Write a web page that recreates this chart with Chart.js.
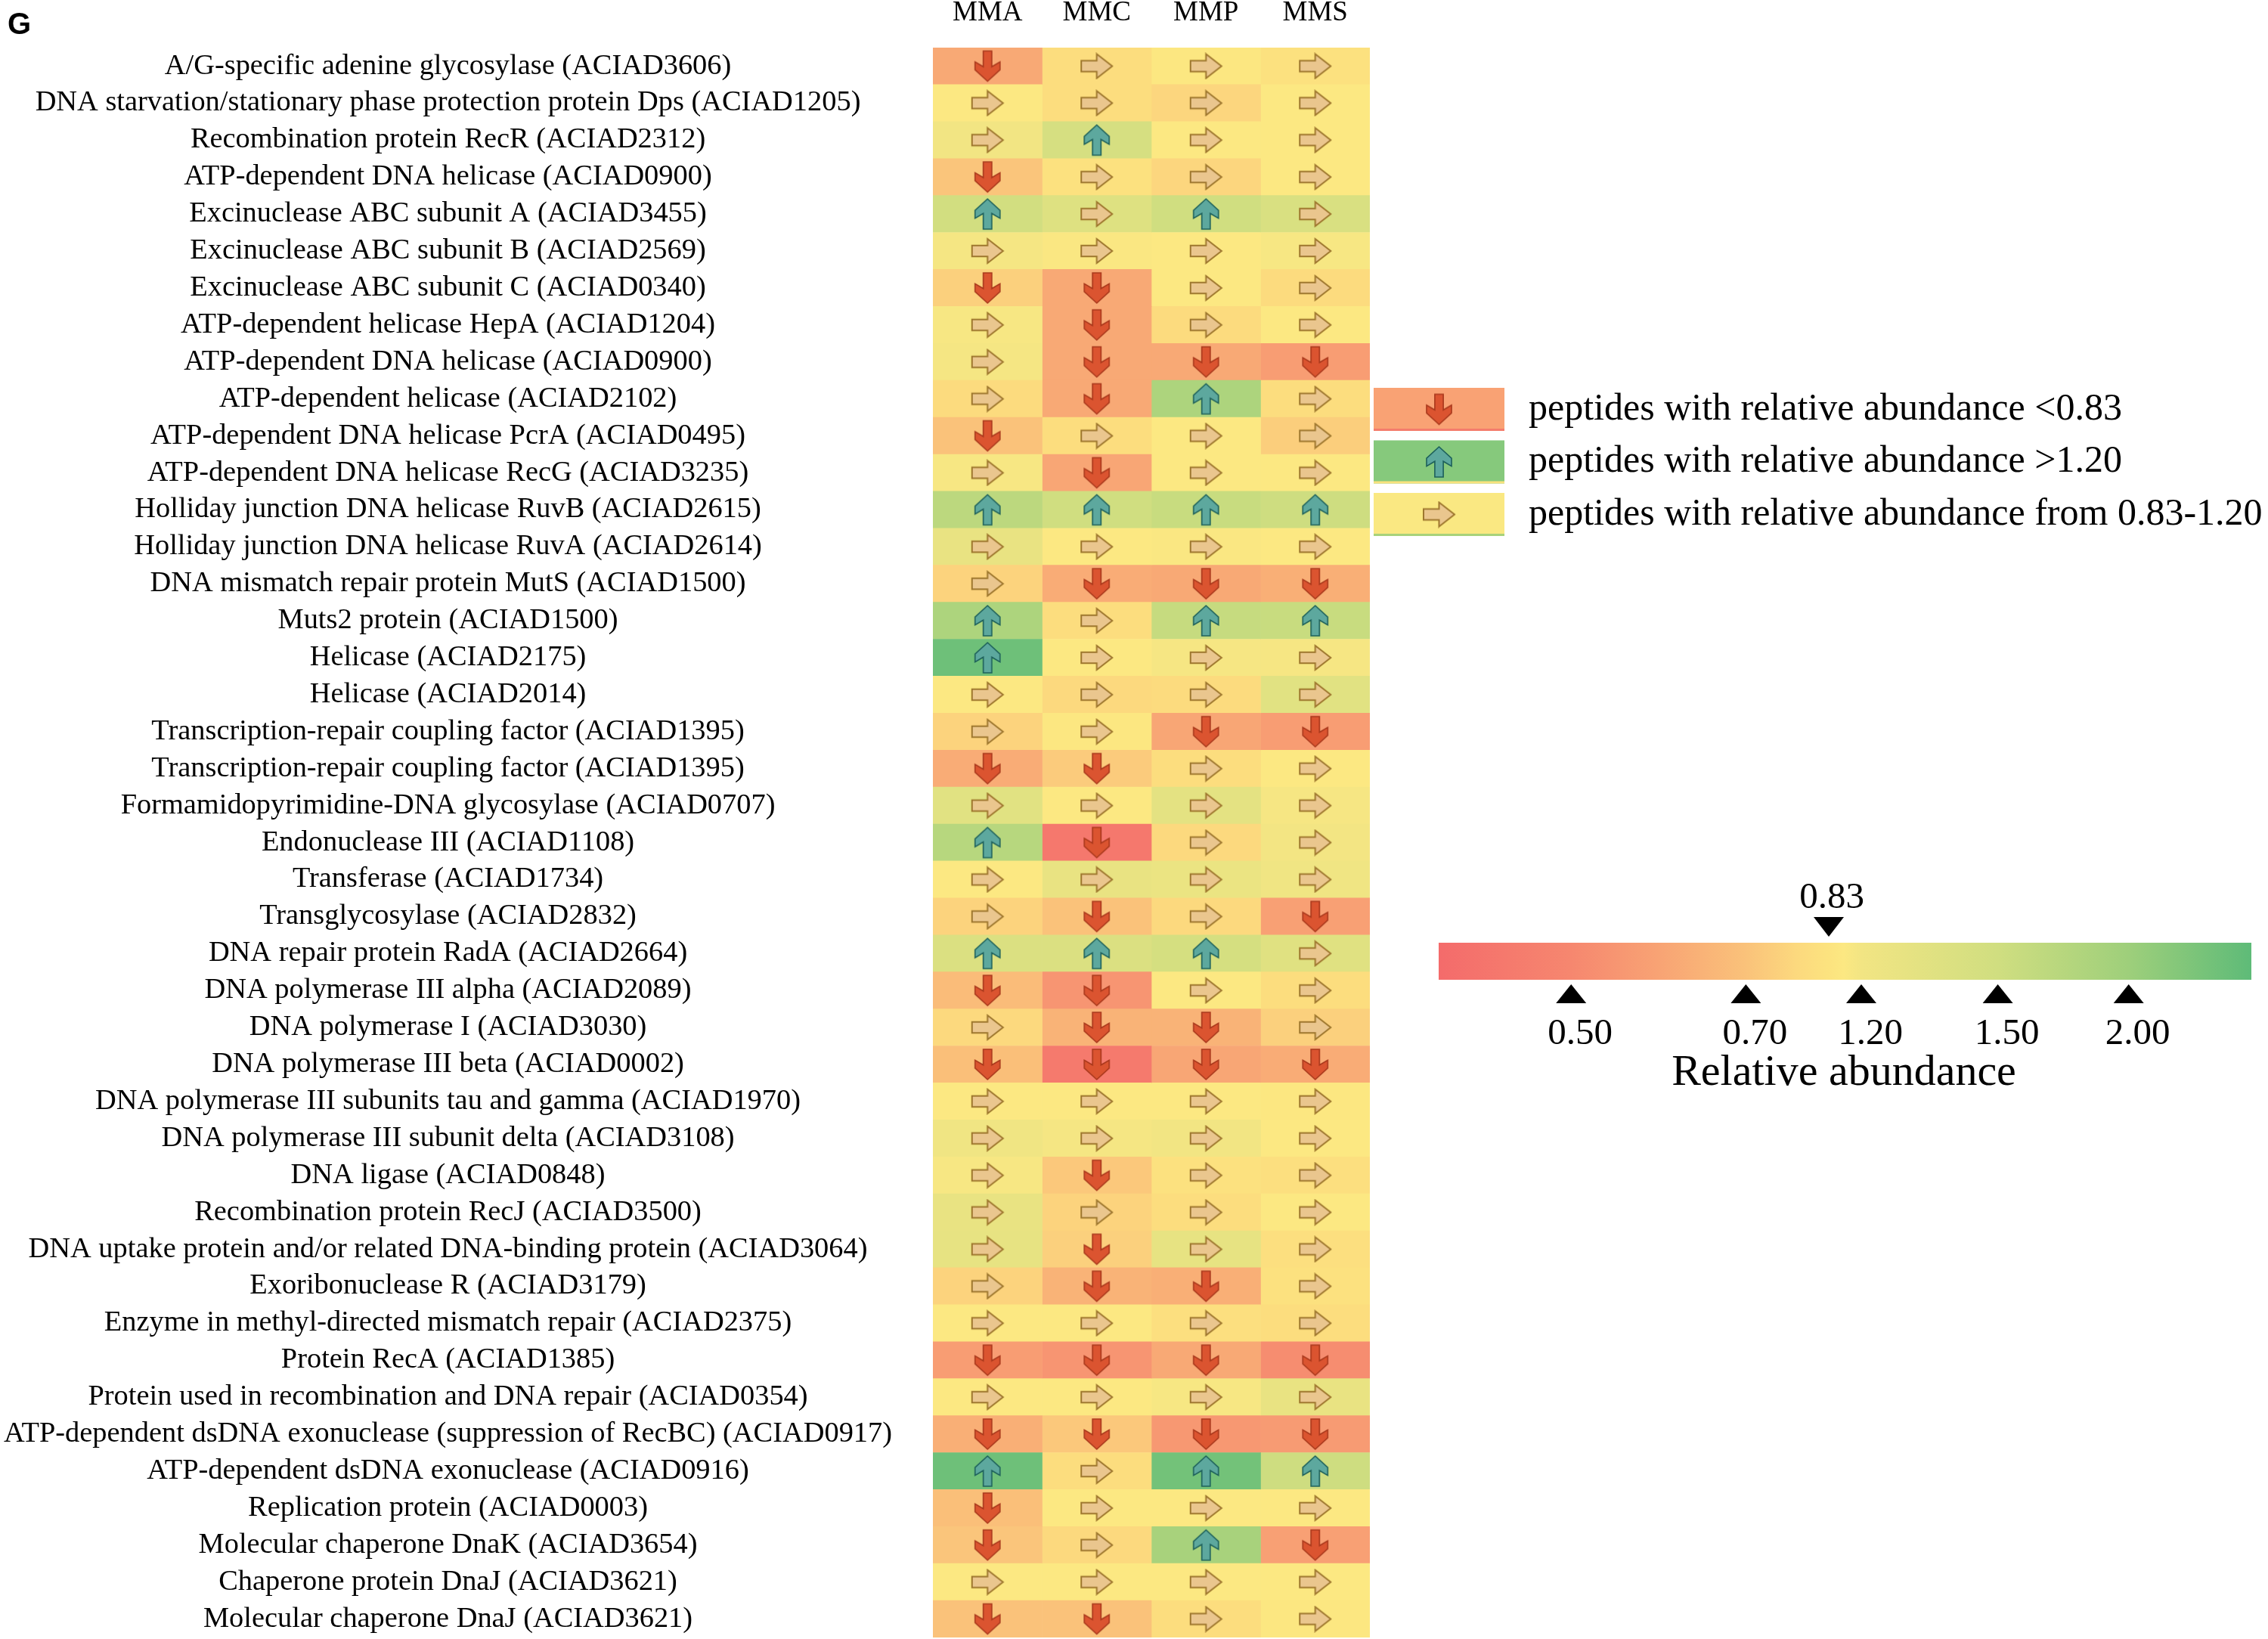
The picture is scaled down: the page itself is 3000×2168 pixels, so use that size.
<!DOCTYPE html>
<html lang="en">
<head>
    <meta charset="UTF-8">
    <title>Relative abundance of DNA repair proteins</title>
    <script src="https://cdn.jsdelivr.net/npm/chart.js"></script>
    <style>
        html, body { margin: 0; padding: 0; background: #fff; }
        #wrap { width: 3000px; height: 2168px; position: relative; }
    </style>
</head>
<body>
    <div id="wrap"><canvas id="heatChart"></canvas></div>

    <script>
        // ---- data ----
        const proteins = [
            'A/G-specific adenine glycosylase (ACIAD3606)',
            'DNA starvation/stationary phase protection protein Dps (ACIAD1205)',
            'Recombination protein RecR (ACIAD2312)',
            'ATP-dependent DNA helicase (ACIAD0900)',
            'Excinuclease ABC subunit A (ACIAD3455)',
            'Excinuclease ABC subunit B (ACIAD2569)',
            'Excinuclease ABC subunit C (ACIAD0340)',
            'ATP-dependent helicase HepA (ACIAD1204)',
            'ATP-dependent DNA helicase (ACIAD0900)',
            'ATP-dependent helicase (ACIAD2102)',
            'ATP-dependent DNA helicase PcrA (ACIAD0495)',
            'ATP-dependent DNA helicase RecG (ACIAD3235)',
            'Holliday junction DNA helicase RuvB (ACIAD2615)',
            'Holliday junction DNA helicase RuvA (ACIAD2614)',
            'DNA mismatch repair protein MutS (ACIAD1500)',
            'Muts2 protein (ACIAD1500)',
            'Helicase (ACIAD2175)',
            'Helicase (ACIAD2014)',
            'Transcription-repair coupling factor (ACIAD1395)',
            'Transcription-repair coupling factor (ACIAD1395)',
            'Formamidopyrimidine-DNA glycosylase (ACIAD0707)',
            'Endonuclease III (ACIAD1108)',
            'Transferase (ACIAD1734)',
            'Transglycosylase (ACIAD2832)',
            'DNA repair protein RadA (ACIAD2664)',
            'DNA polymerase III alpha (ACIAD2089)',
            'DNA polymerase I (ACIAD3030)',
            'DNA polymerase III beta (ACIAD0002)',
            'DNA polymerase III subunits tau and gamma (ACIAD1970)',
            'DNA polymerase III subunit delta (ACIAD3108)',
            'DNA ligase (ACIAD0848)',
            'Recombination protein RecJ (ACIAD3500)',
            'DNA uptake protein and/or related DNA-binding protein (ACIAD3064)',
            'Exoribonuclease R (ACIAD3179)',
            'Enzyme in methyl-directed mismatch repair (ACIAD2375)',
            'Protein RecA (ACIAD1385)',
            'Protein used in recombination and DNA repair (ACIAD0354)',
            'ATP-dependent dsDNA exonuclease (suppression of RecBC) (ACIAD0917)',
            'ATP-dependent dsDNA exonuclease (ACIAD0916)',
            'Replication protein (ACIAD0003)',
            'Molecular chaperone DnaK (ACIAD3654)',
            'Chaperone protein DnaJ (ACIAD3621)',
            'Molecular chaperone DnaJ (ACIAD3621)'
        ];

        const columns = ['MMA', 'MMC', 'MMP', 'MMS'];

        // relative abundance (cell colour), estimated from the colours
        const mmaValue = [0.62, 1.00, 1.20, 0.71, 1.48, 1.15, 0.75, 1.10, 1.15, 0.79, 0.70, 1.10, 1.70, 1.28, 0.76, 1.85, 2.45, 1.00, 0.76, 0.63, 1.35, 1.75, 1.00, 0.76, 1.40, 0.68, 0.78, 0.69, 1.00, 1.22, 1.10, 1.28, 1.30, 0.76, 1.00, 0.58, 1.00, 0.64, 2.45, 0.69, 0.71, 1.00, 0.70];
        const mmcValue = [0.80, 0.80, 1.45, 0.82, 1.38, 1.05, 0.62, 0.62, 0.62, 0.62, 0.80, 0.61, 1.50, 1.00, 0.63, 0.80, 1.00, 0.78, 0.95, 0.73, 1.00, 0.42, 1.28, 0.70, 1.40, 0.55, 0.65, 0.43, 1.00, 1.15, 0.72, 0.76, 0.75, 0.65, 1.00, 0.55, 1.00, 0.72, 0.80, 1.00, 0.78, 1.00, 0.70];
        const mmpValue = [0.95, 0.77, 1.00, 0.77, 1.50, 1.00, 1.00, 0.79, 0.62, 1.85, 1.00, 1.00, 1.58, 1.05, 0.62, 1.60, 1.12, 0.79, 0.61, 0.80, 1.32, 0.78, 1.26, 0.78, 1.46, 1.00, 0.65, 0.61, 1.00, 1.20, 0.82, 0.80, 1.30, 0.64, 0.81, 0.62, 1.10, 0.56, 2.40, 1.00, 1.90, 1.00, 0.80];
        const mmsValue = [0.82, 1.00, 1.00, 1.00, 1.42, 1.10, 0.79, 1.00, 0.58, 0.80, 0.74, 1.00, 1.52, 1.00, 0.64, 1.58, 1.12, 1.35, 0.58, 1.00, 1.12, 1.18, 1.22, 0.59, 1.36, 0.80, 0.75, 0.63, 0.95, 1.00, 0.81, 1.00, 0.81, 0.82, 0.80, 0.52, 1.28, 0.57, 1.52, 1.00, 0.59, 1.00, 0.95];

        // arrow shown in each cell: -1 down, 0 right, 1 up
        const mmaTrend = [-1, 0, 0, -1, 1, 0, -1, 0, 0, 0, -1, 0, 1, 0, 0, 1, 1, 0, 0, -1, 0, 1, 0, 0, 1, -1, 0, -1, 0, 0, 0, 0, 0, 0, 0, -1, 0, -1, 1, -1, -1, 0, -1];
        const mmcTrend = [0, 0, 1, 0, 0, 0, -1, -1, -1, -1, 0, -1, 1, 0, -1, 0, 0, 0, 0, -1, 0, -1, 0, -1, 1, -1, -1, -1, 0, 0, -1, 0, -1, -1, 0, -1, 0, -1, 0, 0, 0, 0, -1];
        const mmpTrend = [0, 0, 0, 0, 1, 0, 0, 0, -1, 1, 0, 0, 1, 0, -1, 1, 0, 0, -1, 0, 0, 0, 0, 0, 1, 0, -1, -1, 0, 0, 0, 0, 0, -1, 0, -1, 0, -1, 1, 0, 1, 0, 0];
        const mmsTrend = [0, 0, 0, 0, 0, 0, 0, 0, -1, 0, 0, 0, 1, 0, -1, 1, 0, 0, -1, 0, 0, 0, 0, -1, 0, 0, 0, -1, 0, 0, 0, 0, 0, 0, 0, -1, 0, -1, 1, 0, -1, 0, 0];

        // colour scale
        const scaleTicks = [0.50, 0.70, 1.20, 1.50, 2.00];
        const thresholdTick = 0.83;
        const colorValues = [0.35, 0.50, 0.60, 0.70, 0.78, 0.83, 1.00, 1.20, 1.50, 2.00, 2.60];
        const colorHex = ['#f46b6b', '#f6876f', '#f8a374', '#fac27a', '#fcd97e', '#fce37f', '#fce882', '#f2e583', '#d0de80', '#9ecf7b', '#5ebb78'];

        const legendTexts = [
            'peptides with relative abundance <0.83',
            'peptides with relative abundance >1.20',
            'peptides with relative abundance from 0.83-1.20'
        ];
        const legendTrends = [-1, 1, 0];

        // ---- layout / style ----
        const SERIF = '"Liberation Serif", "Times New Roman", serif';
        const AREA = { left: 1234, right: 1812, top: 63, bottom: 2166 };
        // where the labelled values sit along the colour bar (0..1)
        const barAnchorValue = [0.35, 0.50, 0.70, 0.83, 1.20, 1.50, 2.00, 2.60];
        const barAnchorPos = [0, 0.163, 0.378, 0.48, 0.52, 0.688, 0.849, 1];
        const BAR = { x: 1903, y: 1247, w: 1075, h: 49 };
        const LEGEND = { x: 1817, top: 513, step: 69.5, w: 173, h: 57, textX: 2022 };
        const legendFills = ['#f9a274', '#86c97c', '#fae882'];
        const legendEdges = ['#f47c6c', '#f8e27e', '#a8d27a'];

        function hexToRgb(h) {
            return [parseInt(h.slice(1, 3), 16), parseInt(h.slice(3, 5), 16), parseInt(h.slice(5, 7), 16)];
        }

        function colorFor(v) {
            if (v <= colorValues[0]) return colorHex[0];
            for (let i = 1; i < colorValues.length; i++) {
                if (v <= colorValues[i]) {
                    const t = (v - colorValues[i - 1]) / (colorValues[i] - colorValues[i - 1]);
                    const a = hexToRgb(colorHex[i - 1]);
                    const b = hexToRgb(colorHex[i]);
                    const c = a.map((x, k) => Math.round(x + (b[k] - x) * t));
                    return 'rgb(' + c.join(',') + ')';
                }
            }
            return colorHex[colorHex.length - 1];
        }

        function barFraction(v) {
            for (let i = 1; i < barAnchorValue.length; i++) {
                if (v <= barAnchorValue[i]) {
                    const t = (v - barAnchorValue[i - 1]) / (barAnchorValue[i] - barAnchorValue[i - 1]);
                    return barAnchorPos[i - 1] + t * (barAnchorPos[i] - barAnchorPos[i - 1]);
                }
            }
            return 1;
        }

        // arrow glyphs, drawn once and used as point styles
        function makeArrow(trend) {
            const pad = 2;
            const w = trend === 0 ? 41 : 33;
            const h = trend === 0 ? 32 : 40;
            const c = document.createElement('canvas');
            c.width = w + pad * 2;
            c.height = h + pad * 2;
            const g = c.getContext('2d');
            g.translate(pad, pad);
            let pts;
            if (trend === 0) {
                pts = [[0, 0.27], [0.5, 0.27], [0.5, 0], [1, 0.5], [0.5, 1], [0.5, 0.73], [0, 0.73]];
            } else {
                pts = [[0.33, 0], [0.67, 0], [0.67, 0.52], [1, 0.36], [1, 0.62], [0.5, 1], [0, 0.62], [0, 0.36], [0.33, 0.52]];
                if (trend === 1) pts = pts.map(p => [p[0], 1 - p[1]]);
            }
            g.beginPath();
            pts.forEach((p, i) => {
                const x = p[0] * w, y = p[1] * h;
                if (i === 0) g.moveTo(x, y); else g.lineTo(x, y);
            });
            g.closePath();
            g.fillStyle = trend === 0 ? '#eac68e' : (trend === 1 ? '#5da89e' : '#db5430');
            g.strokeStyle = trend === 0 ? '#9e772e' : (trend === 1 ? '#1d605b' : '#a8381c');
            g.lineWidth = trend === 0 ? 2 : 1.6;
            g.lineJoin = 'miter';
            g.fill();
            g.stroke();
            return c;
        }

        const arrowImages = { '-1': makeArrow(-1), '0': makeArrow(0), '1': makeArrow(1) };

        const valueColumns = [mmaValue, mmcValue, mmpValue, mmsValue];
        const trendColumns = [mmaTrend, mmcTrend, mmpTrend, mmsTrend];

        const datasets = [];
        columns.forEach((name, c) => {
            datasets.push({
                type: 'bar',
                label: name,
                indexAxis: 'y',
                data: valueColumns[c].map(() => [c, c + 1]),
                backgroundColor: valueColumns[c].map(colorFor),
                borderWidth: 0,
                barPercentage: 1,
                categoryPercentage: 1,
                grouped: false,
                order: 2
            });
        });
        columns.forEach((name, c) => {
            datasets.push({
                type: 'scatter',
                label: name + ' arrows',
                data: trendColumns[c].map((t, r) => ({ x: c + 0.5, y: r })),
                pointStyle: ctx => arrowImages[String(trendColumns[c][ctx.dataIndex])],
                pointRadius: 16,
                order: 1
            });
        });

        // the axes keep their own label overhang otherwise, which shrinks the grid
        function noPadding(scale) {
            scale.paddingLeft = 0;
            scale.paddingRight = 0;
            scale.paddingTop = 0;
            scale.paddingBottom = 0;
        }

        const extrasPlugin = {
            id: 'extras',
            afterDraw(chart) {
                const ctx = chart.ctx;
                ctx.save();

                // panel letter
                ctx.fillStyle = '#000';
                ctx.font = 'bold 40px "Liberation Sans", Arial, sans-serif';
                ctx.textAlign = 'left';
                ctx.textBaseline = 'middle';
                ctx.fillText('G', 10, 34);

                // legend
                legendTexts.forEach((text, i) => {
                    const top = LEGEND.top + i * LEGEND.step;
                    ctx.fillStyle = legendFills[i];
                    ctx.fillRect(LEGEND.x, top, LEGEND.w, LEGEND.h);
                    ctx.fillStyle = legendEdges[i];
                    ctx.fillRect(LEGEND.x, top + LEGEND.h - 3, LEGEND.w, 3);
                    const img = arrowImages[String(legendTrends[i])];
                    ctx.drawImage(img, LEGEND.x + LEGEND.w / 2 - img.width / 2, top + LEGEND.h / 2 - img.height / 2);
                    ctx.fillStyle = '#000';
                    ctx.font = '50px ' + SERIF;
                    ctx.textAlign = 'left';
                    ctx.fillText(text, LEGEND.textX, top + LEGEND.h / 2);
                });

                // colour bar
                const grad = ctx.createLinearGradient(BAR.x, 0, BAR.x + BAR.w, 0);
                colorValues.forEach((v, i) => grad.addColorStop(barFraction(v), colorHex[i]));
                ctx.fillStyle = grad;
                ctx.fillRect(BAR.x, BAR.y, BAR.w, BAR.h);

                ctx.fillStyle = '#000';
                ctx.font = '49px ' + SERIF;
                ctx.textAlign = 'center';
                scaleTicks.forEach(v => {
                    const x = BAR.x + barFraction(v) * BAR.w;
                    ctx.beginPath();
                    ctx.moveTo(x, BAR.y + BAR.h + 6);
                    ctx.lineTo(x + 20, BAR.y + BAR.h + 31);
                    ctx.lineTo(x - 20, BAR.y + BAR.h + 31);
                    ctx.closePath();
                    ctx.fill();
                    ctx.fillText(v.toFixed(2), x + 12, 1368);
                });

                const tx = BAR.x + barFraction(thresholdTick) * BAR.w;
                ctx.beginPath();
                ctx.moveTo(tx - 20, BAR.y - 34);
                ctx.lineTo(tx + 20, BAR.y - 34);
                ctx.lineTo(tx, BAR.y - 8);
                ctx.closePath();
                ctx.fill();
                ctx.fillText(thresholdTick.toFixed(2), tx + 4, 1188);

                ctx.font = '58px ' + SERIF;
                ctx.fillText('Relative abundance', 2439, 1420);

                ctx.restore();
            }
        };

        new Chart(document.getElementById('heatChart'), {
            type: 'bar',
            data: { labels: proteins, datasets: datasets },
            options: {
                responsive: true,
                maintainAspectRatio: false,
                devicePixelRatio: 1,
                animation: false,
                layout: { autoPadding: false, padding: { left: 0, top: 0, right: 3000 - AREA.right, bottom: 2168 - AREA.bottom } },
                plugins: { legend: { display: false }, tooltip: { enabled: false } },
                scales: {
                    x: {
                        type: 'linear',
                        position: 'top',
                        offset: false,
                        min: 0,
                        max: columns.length,
                        grid: { display: false, drawTicks: false, offset: false },
                        border: { display: false },
                        afterFit: scale => { scale.height = AREA.top; noPadding(scale); },
                        afterBuildTicks: scale => { scale.ticks = columns.map((c, i) => ({ value: i + 0.5 })); },
                        ticks: {
                            callback: (v, i) => columns[i],
                            font: { family: SERIF, size: 37 },
                            color: '#000',
                            padding: 24,
                            maxRotation: 0
                        }
                    },
                    y: {
                        type: 'category',
                        offset: true,
                        grid: { display: false, drawTicks: false },
                        border: { display: false },
                        afterFit: scale => { scale.width = AREA.left; noPadding(scale); },
                        ticks: {
                            autoSkip: false,
                            crossAlign: 'center',
                            font: { family: SERIF, size: 38.4 },
                            color: '#000',
                            padding: 54
                        }
                    }
                }
            },
            plugins: [extrasPlugin]
        });
    </script>
</body>
</html>
